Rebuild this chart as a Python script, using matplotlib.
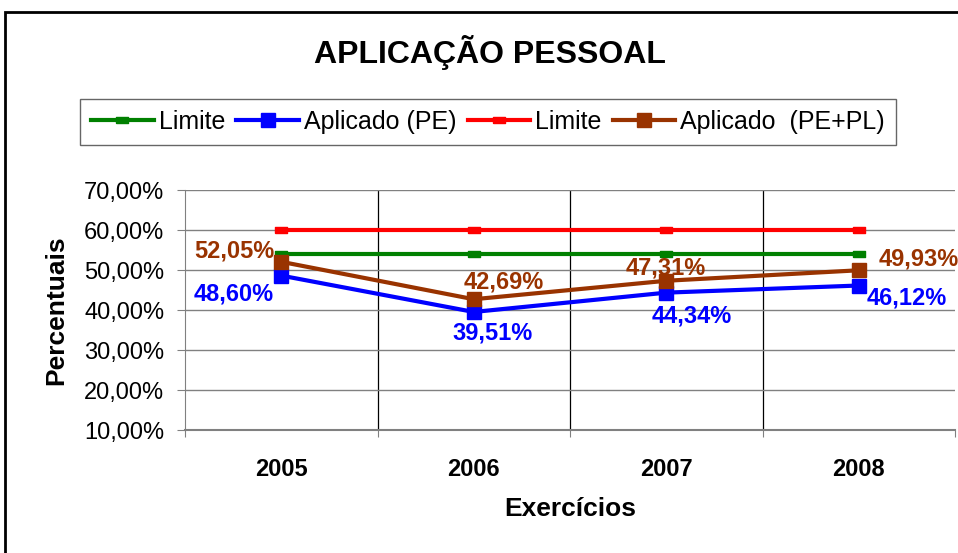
import matplotlib.pyplot as plt
from matplotlib.patches import Rectangle
from matplotlib.ticker import FuncFormatter

plt.rcParams['font.family'] = ['Liberation Sans', 'DejaVu Sans']

years = ['2005', '2006', '2007', '2008']
limite_pe = [54.0, 54.0, 54.0, 54.0]
aplicado_pe = [48.60, 39.51, 44.34, 46.12]
limite_pepl = [60.0, 60.0, 60.0, 60.0]
aplicado_pepl = [52.05, 42.69, 47.31, 49.93]
labels_pe = ['48,60%', '39,51%', '44,34%', '46,12%']
labels_pepl = ['52,05%', '42,69%', '47,31%', '49,93%']

green = '#008000'
blue = '#0000FF'
red = '#FF0000'
brown = '#993300'

# flat dash marker used by Excel on the limit lines
dash = [(-1, -0.45), (1, -0.45), (1, 0.45), (-1, 0.45), (-1, -0.45)]

fig = plt.figure(figsize=(9.58, 5.53), dpi=100)
ax = fig.add_axes([185 / 958, 1 - 430 / 553, 770 / 958, 240 / 553])

x = range(len(years))
ax.plot(x, limite_pe, color=green, lw=3, marker=dash, ms=9, label='Limite')
ax.plot(x, aplicado_pe, color=blue, lw=3, marker='s', ms=9.5, label='Aplicado (PE)')
ax.plot(x, limite_pepl, color=red, lw=3, marker=dash, ms=9, label='Limite')
ax.plot(x, aplicado_pepl, color=brown, lw=3, marker='s', ms=9.5, label='Aplicado  (PE+PL)')

# data labels
off_pe = [(-48, -18), (19, -21), (25, -23), (48, -12)]
off_pepl = [(-47, 11), (30, 17), (0, 13), (60, 11)]
for i in x:
    ax.annotate(labels_pe[i], (i, aplicado_pe[i]), xytext=off_pe[i],
                textcoords='offset pixels', ha='center', va='center',
                color=blue, fontsize=17, fontweight='bold', annotation_clip=False)
    ax.annotate(labels_pepl[i], (i, aplicado_pepl[i]), xytext=off_pepl[i],
                textcoords='offset pixels', ha='center', va='center',
                color=brown, fontsize=17, fontweight='bold', annotation_clip=False)

ax.set_xlim(-0.5, 3.5)
ax.set_ylim(10, 70)
ax.set_yticks(range(10, 71, 10))
ax.yaxis.set_major_formatter(FuncFormatter(lambda v, p: f'{v:.2f}%'.replace('.', ',')))
ax.set_xticks([-0.5, 0.5, 1.5, 2.5, 3.5])
ax.set_xticklabels([])
ax.set_xticks(list(x), minor=True)
ax.set_xticklabels(years, minor=True, fontsize=17, fontweight='bold')
ax.tick_params(axis='x', which='minor', length=0, pad=20)
ax.tick_params(axis='x', which='major', length=5, color='#808080')
ax.tick_params(axis='y', length=6, color='#808080', labelsize=17, pad=9)

ax.grid(axis='y', color='#808080', lw=1)
for b in [0.5, 1.5, 2.5]:
    ax.axvline(b, color='black', lw=0.9, zorder=0)
ax.set_axisbelow(True)
for s in ['top', 'right']:
    ax.spines[s].set_visible(False)
ax.spines['left'].set_color('#808080')
ax.spines['bottom'].set_color('#808080')
ax.spines['bottom'].set_linewidth(1.5)

ax.set_ylabel('Percentuais', fontsize=19, fontweight='bold', labelpad=11)
ax.set_xlabel('Exercícios', fontsize=19, fontweight='bold', labelpad=12)

fig.text(490 / 958, 1 - 52 / 553, 'APLICAÇÃO PESSOAL', ha='center', va='center',
         fontsize=23, fontweight='bold')

leg = fig.legend(loc='center', bbox_to_anchor=(488 / 958, 1 - 122 / 553), ncol=4,
                 fontsize=18, frameon=True, fancybox=False, edgecolor='#404040',
                 handlelength=2.5, handletextpad=0.2, columnspacing=0.45,
                 borderpad=0.45, borderaxespad=0)
leg.get_frame().set_linewidth(1)

# outer chart frame (cut off at right and bottom)
fig.patches.append(Rectangle((5 / 958, -0.1), 1.1, 1 - 12 / 553 + 0.1,
                             transform=fig.transFigure, fill=False,
                             edgecolor='black', lw=2))

fig.savefig('out.png', dpi=100)
